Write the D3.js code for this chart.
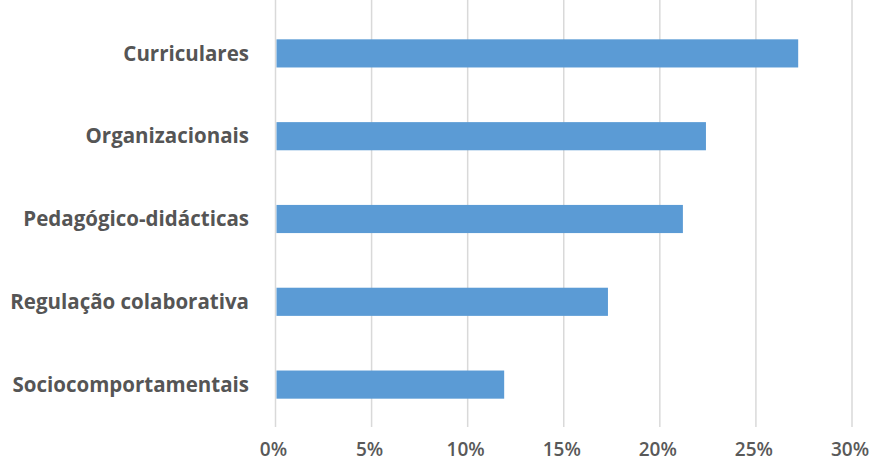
<!DOCTYPE html>
<html>
<head>
<meta charset="utf-8">
<script src="https://cdn.jsdelivr.net/npm/d3@7"></script>
<style>
  body { margin: 0; background: #fff; }
  svg { display: block; }
</style>
</head>
<body>
<svg width="874" height="459"></svg>
<script>
// data
var categories = ["Curriculares", "Organizacionais", "Pedagógico-didácticas", "Regulação colaborativa", "Sociocomportamentais"];
var values = [27.2, 22.4, 21.2, 17.3, 11.9];
var tickValues = [0, 5, 10, 15, 20, 25, 30];

var width = 874, height = 459;
var left = 275.5, right = 852;

var svg = d3.select("svg");

var x = d3.scaleLinear().domain([0, 30]).range([left, right]);
var y = d3.scaleBand().domain(categories).range([12, 426])
    .paddingInner(0.66).paddingOuter(0.33);

// gridlines
svg.append("g").selectAll("line")
    .data(tickValues)
    .enter().append("line")
    .attr("x1", function(d){ return x(d); })
    .attr("x2", function(d){ return x(d); })
    .attr("y1", 0)
    .attr("y2", 427)
    .attr("stroke", "#d9d9d9")
    .attr("stroke-width", 1.5);

// bars
svg.append("g").selectAll("rect")
    .data(values)
    .enter().append("rect")
    .attr("x", x(0) + 1)
    .attr("y", function(d, i){ return y(categories[i]); })
    .attr("width", function(d){ return x(d) - x(0) - 1; })
    .attr("height", y.bandwidth())
    .attr("fill", "#5b9bd5");

// category labels
svg.append("g").selectAll("text")
    .data(categories)
    .enter().append("text")
    .attr("x", 249)
    .attr("y", function(d){ return y(d) + y.bandwidth() / 2; })
    .attr("dy", "0.35em")
    .attr("text-anchor", "end")
    .attr("font-family", "Open Sans, sans-serif")
    .attr("font-weight", 700)
    .attr("font-size", 20.5)
    .attr("fill", "#555555")
    .text(function(d){ return d; });

// x axis labels
svg.append("g").selectAll("text")
    .data(tickValues)
    .enter().append("text")
    .attr("x", function(d){ return x(d) - 2; })
    .attr("y", 456)
    .attr("text-anchor", "middle")
    .attr("font-family", "Open Sans, sans-serif")
    .attr("font-weight", 600)
    .attr("font-size", 19)
    .attr("fill", "#595959")
    .text(function(d){ return d + "%"; });
</script>
</body>
</html>
